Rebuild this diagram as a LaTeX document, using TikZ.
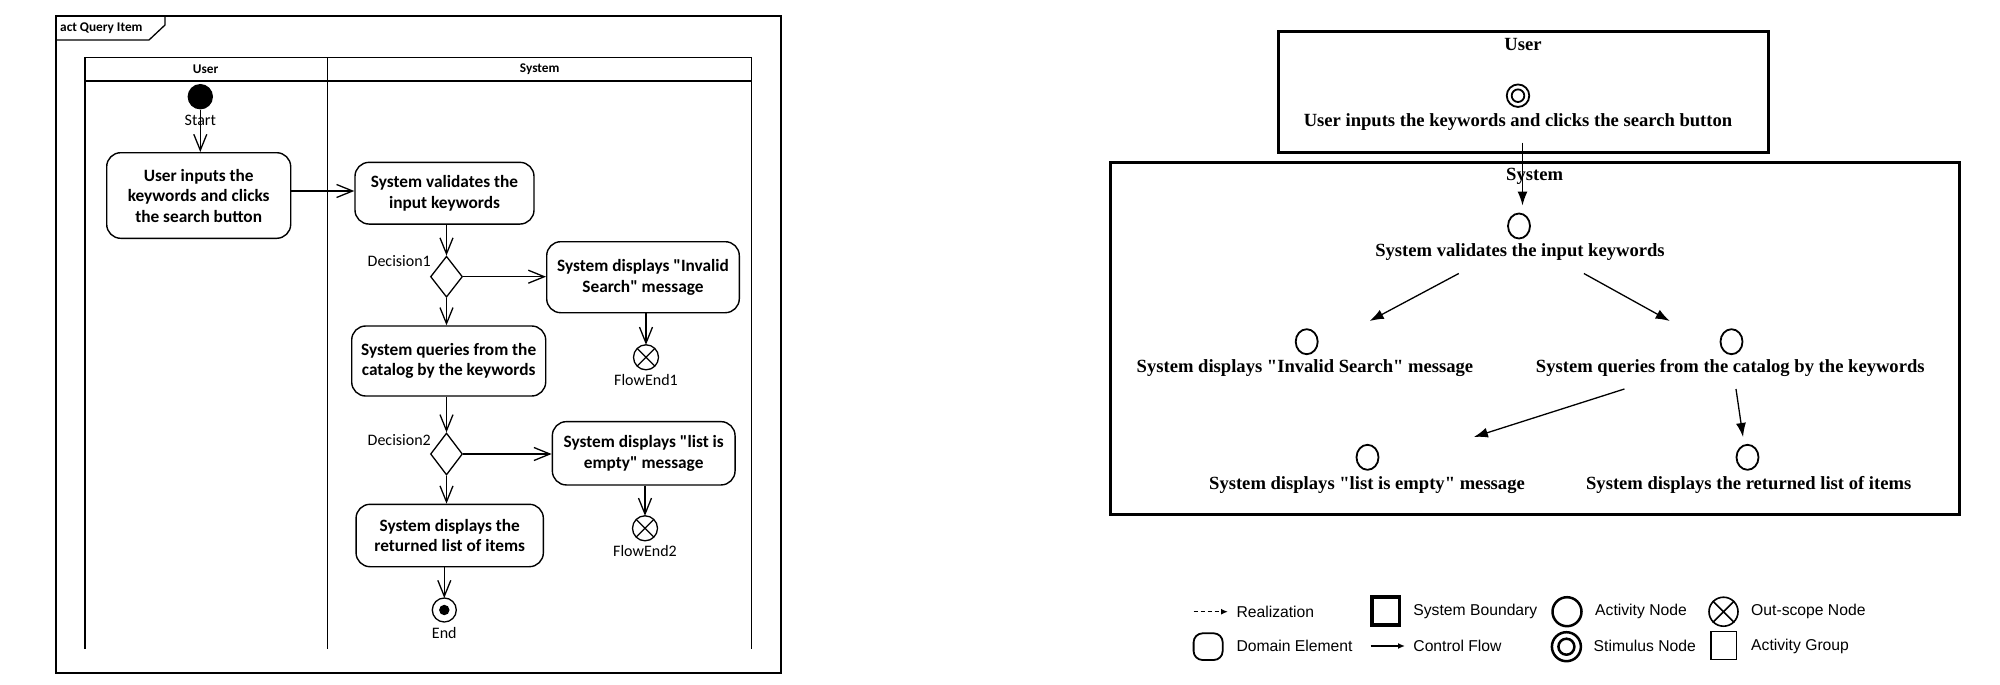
\documentclass[tikz,border=0pt]{standalone}
\usepackage{fontspec}
\newfontfamily\timesf{Liberation Serif}
\newfontfamily\calibri{Carlito}
\newfontfamily\arialf{Liberation Sans}
\usetikzlibrary{arrows.meta,shapes.geometric}
\tikzset{
  lbox/.style={draw, line width=1.4pt, rounded corners=14pt, align=center, inner sep=0pt, font=\calibri\bfseries\fontsize{17.3}{20.5}\selectfont},
  llab/.style={inner sep=0pt, font=\calibri\fontsize{16}{19}\selectfont},
  lhead/.style={inner sep=0pt, font=\calibri\bfseries\fontsize{13.3}{16}\selectfont},
  larr/.style={line width=1.3pt, -{Straight Barb[length=16pt,width=13pt]}},
  ldec/.style={diamond, draw, line width=1.3pt, minimum width=32pt, minimum height=41pt, inner sep=0pt},
  lfin/.style={circle, draw, line width=1.3pt, minimum size=25pt, inner sep=0pt, outer sep=0pt},
  rtxt/.style={inner sep=0pt, font=\timesf\bfseries\fontsize{18.6}{22}\selectfont},
  rgrp/.style={draw, line width=3pt},
  ract/.style={ellipse, draw, line width=1.8pt, minimum width=22pt, minimum height=25pt, inner sep=0pt},
  rstim/.style={circle, draw, line width=1.8pt, minimum size=22.5pt, inner sep=0pt},
  rhold/.style={inner sep=0pt, outer sep=0pt, minimum height=68pt},
  rarr/.style={line width=1.3pt, -{Latex[length=14pt,width=10pt]}},
  legtxt/.style={anchor=west, inner sep=0pt, font=\arialf\fontsize{15.7}{18}\selectfont},
}
\begin{document}
\begin{tikzpicture}[x=1pt,y=-1pt]
\useasboundingbox (0,0) rectangle (2000,685);
% ---------------- left: UML activity diagram ----------------
\draw[line width=1.5pt] (56,16) rectangle (781,673);
\draw[line width=1.3pt] (56,40) -- (149,40) -- (165,25) -- (165,16);
\node[lhead, anchor=west] (title) at (60,28) {act Query Item};
\draw[line width=1.5pt] (85,649) -- (85,57.3) -- (751.7,57.3) -- (751.7,649);
\draw[line width=1.5pt] (85,81) -- (751.7,81);
\draw[line width=1.5pt] (327.7,57.3) -- (327.7,649);
\node[lhead] (hu) at (205.7,69) {User};
\node[lhead] (hs) at (539.7,69) {System};

\node[circle, fill, minimum size=25.4pt, inner sep=0pt] (start) at (200.3,96.7) {};
\node[llab] (startl) at (200.3,120) {Start};
\node[lbox, minimum width=184pt, minimum height=85.6pt] (user) at (198.7,195.5) {User inputs the\\keywords and clicks\\the search button};
\node[lbox, minimum width=179pt, minimum height=61.7pt] (val) at (444.5,193.2) {System validates the\\input keywords};
\node[ldec] (d1) at (446.5,276.7) {};
\node[llab, anchor=east] (d1l) at (431,260.7) {Decision1};
\node[lbox, minimum width=192.6pt, minimum height=71pt] (inv) at (643,277.2) {System displays "Invalid\\Search" message};
\node[lfin] (fe1) at (646,357.3) {};
\node[llab] (fe1l) at (646,380) {FlowEnd1};
\node[lbox, minimum width=194pt, minimum height=70pt] (qry) at (448.7,361) {System queries from the\\catalog by the keywords};
\node[ldec, minimum height=42pt] (d2) at (446.5,454) {};
\node[llab, anchor=east] (d2l) at (431,440) {Decision2};
\node[lbox, minimum width=182.7pt, minimum height=63.3pt] (emp) at (643.7,453.3) {System displays "list is\\empty" message};
\node[lfin] (fe2) at (645,528.3) {};
\node[llab] (fe2l) at (645,551) {FlowEnd2};
\node[lbox, minimum width=187.3pt, minimum height=62.4pt] (ret) at (449.7,535.5) {System displays the\\returned list of items};
\node[lfin, minimum size=24pt] (endn) at (444.3,610) {};
\fill (endn.center) circle (5.2pt);
\node[llab] (endl) at (444.3,633.3) {End};
\foreach \f in {fe1,fe2}{
  \draw[line width=1.3pt] (\f.north west) -- (\f.south east) (\f.north east) -- (\f.south west);
}

\draw[larr] (start) -- (user.north -| start);
\draw[larr] (user.east |- 0,191) -- (val.west |- 0,191);
\draw[larr] (val.south -| d1) -- (d1.north);
\draw[larr] (d1.east) -- (inv.west |- d1.east);
\draw[larr] (inv.south -| fe1) -- (fe1.north);
\draw[larr] (d1.south) -- (qry.north -| d1);
\draw[larr] (qry.south -| d2) -- (d2.north);
\draw[larr] (d2.east) -- (emp.west |- d2.east);
\draw[larr] (emp.south -| fe2) -- (fe2.north);
\draw[larr] (d2.south) -- (ret.north -| d2);
\draw[larr] (ret.south -| endn) -- (endn.north);

% ---------------- right: extracted model ----------------
\draw[rgrp] (1278,31.7) rectangle (1768.3,152.7);
\node[rtxt] (gu) at (1523,45) {User};
\draw[rgrp] (1110.3,162.7) rectangle (1959.4,514);
\node[rtxt] (gs) at (1534.6,176) {System};

\node[rhold, minimum width=440pt] (ru) at (1522.5,108.7) {};
\node[rstim] (ruc) at (1518,95.7) {};
\draw[line width=1.8pt] (ruc.center) circle (6.3pt);
\node[rtxt] (rut) at (1518,121.7) {User inputs the keywords and clicks the search button};

\node[rhold, minimum width=300pt] (rv) at (1522.5,239.5) {};
\node[ract] (rvc) at (1519,226) {};
\node[rtxt] (rvt) at (1520,252.3) {System validates the input keywords};

\node[rhold, minimum width=330pt] (ri) at (1306,355) {};
\node[ract] (ric) at (1306.7,341.7) {};
\node[rtxt] (rit) at (1305,368.3) {System displays "Invalid Search" message};

\node[rhold, minimum width=420pt] (rq) at (1731,355) {};
\node[ract] (rqc) at (1731.5,341.7) {};
\node[rtxt] (rqt) at (1730.3,368.3) {System queries from the catalog by the keywords};

\node[rhold, minimum width=320pt] (rl) at (1367.5,471) {};
\node[ract] (rlc) at (1367.5,457.3) {};
\node[rtxt] (rlt) at (1367,485) {System displays "list is empty" message};

\node[rhold, minimum width=340pt] (rr) at (1748,471) {};
\node[ract] (rrc) at (1747.5,457.3) {};
\node[rtxt] (rrt) at (1748.7,485) {System displays the returned list of items};

\draw[rarr] (ru) -- (rv);
\draw[rarr] (rv) -- (ri);
\draw[rarr] (rv) -- (rq);
\draw[rarr] (rq) -- (rl);
\draw[rarr] (rq) -- (rr);

% ---------------- legend ----------------
\coordinate (lr1) at (1193.6,611.7);
\coordinate (lr2) at (1228,611.7);
\draw[line width=1.5pt, dash pattern=on 4pt off 3pt, -{Latex[length=7pt,width=6pt]}] (lr1) -- (lr2);
\node[legtxt] (t1) at (1236.3,611.7) {Realization};
\draw[line width=3.5pt] (1372,597) rectangle (1399.6,625);
\node[legtxt] (t2) at (1413.2,611.7) {System Boundary};
\node[circle, draw, line width=2.5pt, minimum size=29pt, inner sep=0pt] (la) at (1567,611.7) {};
\node[legtxt] (t3) at (1595,611.7) {Activity Node};
\node[circle, draw, line width=1.6pt, minimum size=29pt, inner sep=0pt] (lo) at (1723.5,611.7) {};
\draw[line width=1.6pt] (lo.north west) -- (lo.south east) (lo.north east) -- (lo.south west);
\node[legtxt] (t4) at (1751,611.7) {Out-scope Node};

\draw[line width=1.8pt, rounded corners=9pt] (1193.6,633.3) rectangle (1222.7,660);
\node[legtxt] (t5) at (1236.3,646) {Domain Element};
\coordinate (lc1) at (1370.6,646);
\coordinate (lc2) at (1405,646);
\draw[line width=1.5pt, -{Latex[length=7pt,width=6pt]}] (lc1) -- (lc2);
\node[legtxt] (t6) at (1413.2,646) {Control Flow};
\node[circle, draw, line width=2.5pt, minimum size=29pt, inner sep=0pt] (ls) at (1566.4,646.7) {};
\draw[line width=2.5pt] (ls.center) circle (8pt);
\node[legtxt] (t7) at (1593.5,646) {Stimulus Node};
\draw[line width=1.4pt] (1710.8,631.7) rectangle (1736.5,659.3);
\node[legtxt] (t8) at (1751,646) {Activity Group};
\end{tikzpicture}
\end{document}
